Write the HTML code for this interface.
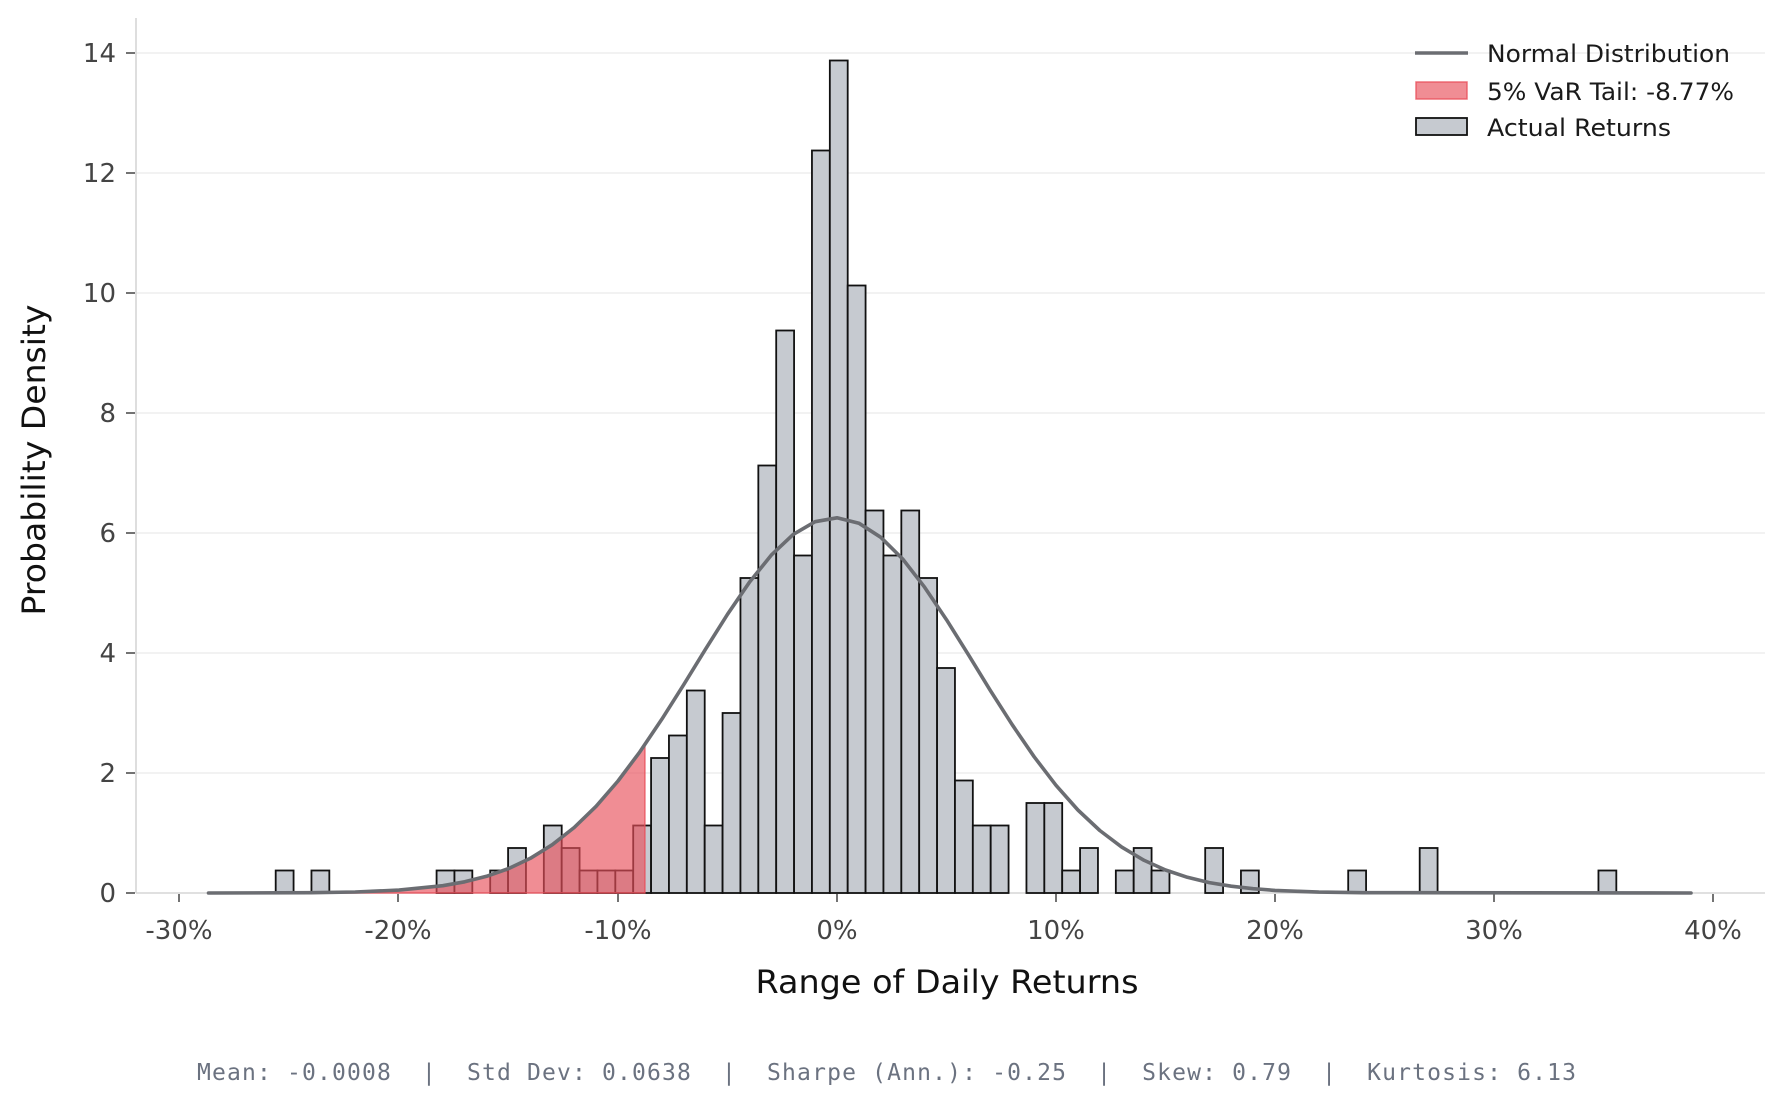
<!DOCTYPE html>
<html><head><meta charset="utf-8"><style>
html,body{margin:0;padding:0;background:#fff;}
svg{display:block;}
text{font-family:"DejaVu Sans","Liberation Sans",sans-serif;}
.tk{font-size:26px;fill:#444;}
.mono{font-family:"DejaVu Sans Mono","Liberation Mono",monospace;}
</style></head><body>
<svg width="1777" height="1105" viewBox="0 0 1777 1105" xmlns="http://www.w3.org/2000/svg">
<rect width="1777" height="1105" fill="#fff"/>
<g stroke="#ebebeb" stroke-width="1.3">
<line x1="136" x2="1765" y1="53" y2="53"/><line x1="136" x2="1765" y1="173" y2="173"/>
<line x1="136" x2="1765" y1="293" y2="293"/><line x1="136" x2="1765" y1="413" y2="413"/>
<line x1="136" x2="1765" y1="533" y2="533"/><line x1="136" x2="1765" y1="653" y2="653"/>
<line x1="136" x2="1765" y1="773" y2="773"/>
</g>
<line x1="136" x2="136" y1="18" y2="893" stroke="#d5d5d5" stroke-width="1.6"/>
<line x1="136" x2="1765" y1="893" y2="893" stroke="#d5d5d5" stroke-width="1.6"/>
<g stroke="#444" stroke-width="1.5">
<line x1="126" x2="135" y1="53" y2="53"/><line x1="126" x2="135" y1="173" y2="173"/>
<line x1="126" x2="135" y1="293" y2="293"/><line x1="126" x2="135" y1="413" y2="413"/>
<line x1="126" x2="135" y1="533" y2="533"/><line x1="126" x2="135" y1="653" y2="653"/>
<line x1="126" x2="135" y1="773" y2="773"/><line x1="126" x2="135" y1="893" y2="893"/>
</g>
<g class="tk" text-anchor="end">
<text x="116" y="62">14</text><text x="116" y="182">12</text><text x="116" y="302">10</text>
<text x="116" y="422">8</text><text x="116" y="542">6</text><text x="116" y="662">4</text>
<text x="116" y="782">2</text><text x="116" y="902">0</text>
</g>
<g stroke="#444" stroke-width="1.5">
<line x1="179" x2="179" y1="894" y2="902"/><line x1="398" x2="398" y1="894" y2="902"/>
<line x1="618" x2="618" y1="894" y2="902"/><line x1="837" x2="837" y1="894" y2="902"/>
<line x1="1056" x2="1056" y1="894" y2="902"/><line x1="1275" x2="1275" y1="894" y2="902"/>
<line x1="1494" x2="1494" y1="894" y2="902"/><line x1="1713" x2="1713" y1="894" y2="902"/>
</g>
<g class="tk" text-anchor="middle">
<text x="179" y="939">-30%</text><text x="398" y="939">-20%</text><text x="618" y="939">-10%</text>
<text x="837" y="939">0%</text><text x="1056" y="939">10%</text><text x="1275" y="939">20%</text>
<text x="1494" y="939">30%</text><text x="1713" y="939">40%</text>
</g>
<g fill="#c6cad0" stroke="#111" stroke-width="1.8">
<rect x="275.7" y="870.5" width="17.875" height="22.5"/>
<rect x="311.45" y="870.5" width="17.875" height="22.5"/>
<rect x="436.58" y="870.5" width="17.875" height="22.5"/>
<rect x="454.45" y="870.5" width="17.875" height="22.5"/>
<rect x="490.2" y="870.5" width="17.875" height="22.5"/>
<rect x="508.08" y="848" width="17.875" height="45"/>
<rect x="543.83" y="825.5" width="17.875" height="67.5"/>
<rect x="561.7" y="848" width="17.875" height="45"/>
<rect x="579.58" y="870.5" width="17.875" height="22.5"/>
<rect x="597.45" y="870.5" width="17.875" height="22.5"/>
<rect x="615.33" y="870.5" width="17.875" height="22.5"/>
<rect x="633.2" y="825.5" width="17.875" height="67.5"/>
<rect x="651.08" y="758" width="17.875" height="135"/>
<rect x="668.95" y="735.5" width="17.875" height="157.5"/>
<rect x="686.83" y="690.5" width="17.875" height="202.5"/>
<rect x="704.7" y="825.5" width="17.875" height="67.5"/>
<rect x="722.58" y="713" width="17.875" height="180"/>
<rect x="740.45" y="578" width="17.875" height="315"/>
<rect x="758.33" y="465.5" width="17.875" height="427.5"/>
<rect x="776.2" y="330.5" width="17.875" height="562.5"/>
<rect x="794.08" y="555.5" width="17.875" height="337.5"/>
<rect x="811.95" y="150.5" width="17.875" height="742.5"/>
<rect x="829.83" y="60.5" width="17.875" height="832.5"/>
<rect x="847.7" y="285.5" width="17.875" height="607.5"/>
<rect x="865.58" y="510.5" width="17.875" height="382.5"/>
<rect x="883.45" y="555.5" width="17.875" height="337.5"/>
<rect x="901.33" y="510.5" width="17.875" height="382.5"/>
<rect x="919.2" y="578" width="17.875" height="315"/>
<rect x="937.08" y="668" width="17.875" height="225"/>
<rect x="954.95" y="780.5" width="17.875" height="112.5"/>
<rect x="972.83" y="825.5" width="17.875" height="67.5"/>
<rect x="990.7" y="825.5" width="17.875" height="67.5"/>
<rect x="1026.45" y="803" width="17.875" height="90"/>
<rect x="1044.33" y="803" width="17.875" height="90"/>
<rect x="1062.2" y="870.5" width="17.875" height="22.5"/>
<rect x="1080.08" y="848" width="17.875" height="45"/>
<rect x="1115.83" y="870.5" width="17.875" height="22.5"/>
<rect x="1133.7" y="848" width="17.875" height="45"/>
<rect x="1151.58" y="870.5" width="17.875" height="22.5"/>
<rect x="1205.2" y="848" width="17.875" height="45"/>
<rect x="1240.95" y="870.5" width="17.875" height="22.5"/>
<rect x="1348.2" y="870.5" width="17.875" height="22.5"/>
<rect x="1419.7" y="848" width="17.875" height="45"/>
<rect x="1598.45" y="870.5" width="17.875" height="22.5"/>
</g>
<polygon fill="#e8505b" fill-opacity="0.65" stroke="#e8505b" stroke-opacity="0.8" stroke-width="1.5"
points="208.5,893 311.4,892.7 355.2,892 399,890.1 442.8,885.7 464.7,881.8 486.6,876.3 508.5,868.6 530.4,858.3 552.3,844.7 574.2,827.5 596.1,806.3 618,781 639.9,751.8 644.9,744.6 644.9,893"/>
<polyline fill="none" stroke="#6b6d72" stroke-width="3.6" stroke-linejoin="round" stroke-linecap="round"
points="208.5,893 311.4,892.7 355.2,892 399,890.1 442.8,885.7 464.7,881.8 486.6,876.3 508.5,868.6 530.4,858.3 552.3,844.7 574.2,827.5 596.1,806.3 618,781 639.9,751.8 661.8,719.3 683.7,684.7 705.6,649.1 727.5,614.3 749.4,582.3 771.3,555.1 793.2,534.4 815.1,521.7 837,517.8 858.9,523.2 880.8,537.3 902.7,559 924.6,587.2 946.5,619.7 968.4,654.7 990.3,690.4 1012.2,724.7 1034.1,756.7 1056,785.3 1077.9,810 1099.8,830.5 1121.7,847.1 1143.6,860.1 1165.5,870 1187.4,877.3 1209.3,882.6 1231.2,886.2 1253.1,888.7 1275,890.4 1318.8,892.1 1362.6,892.7 1691,893"/>
<line x1="1415" x2="1468" y1="53" y2="53" stroke="#6b6d72" stroke-width="3.5"/>
<rect x="1416" y="82" width="51" height="17" fill="#e8505b" fill-opacity="0.65" stroke="#e8505b" stroke-opacity="0.8" stroke-width="1.5"/>
<rect x="1416" y="118" width="51" height="17" fill="#c6cad0" stroke="#111" stroke-width="1.8"/>
<g style="font-size:24px" fill="#1a1a1a">
<text x="1487" y="62" textLength="243" lengthAdjust="spacingAndGlyphs">Normal Distribution</text>
<text x="1487" y="100" textLength="247" lengthAdjust="spacingAndGlyphs">5% VaR Tail: -8.77%</text>
<text x="1487" y="136" textLength="184" lengthAdjust="spacingAndGlyphs">Actual Returns</text>
</g>
<text x="947" y="993" text-anchor="middle" style="font-size:32px" fill="#111" textLength="383" lengthAdjust="spacingAndGlyphs">Range of Daily Returns</text>
<text transform="translate(45,460) rotate(-90)" text-anchor="middle" style="font-size:32px" fill="#111" textLength="311" lengthAdjust="spacingAndGlyphs">Probability Density</text>
<text class="mono" x="197" y="1080" style="font-size:23px" fill="#6b7280" textLength="1379" lengthAdjust="spacing" xml:space="preserve">Mean: -0.0008  |  Std Dev: 0.0638  |  Sharpe (Ann.): -0.25  |  Skew: 0.79  |  Kurtosis: 6.13</text>
</svg>
</body></html>
